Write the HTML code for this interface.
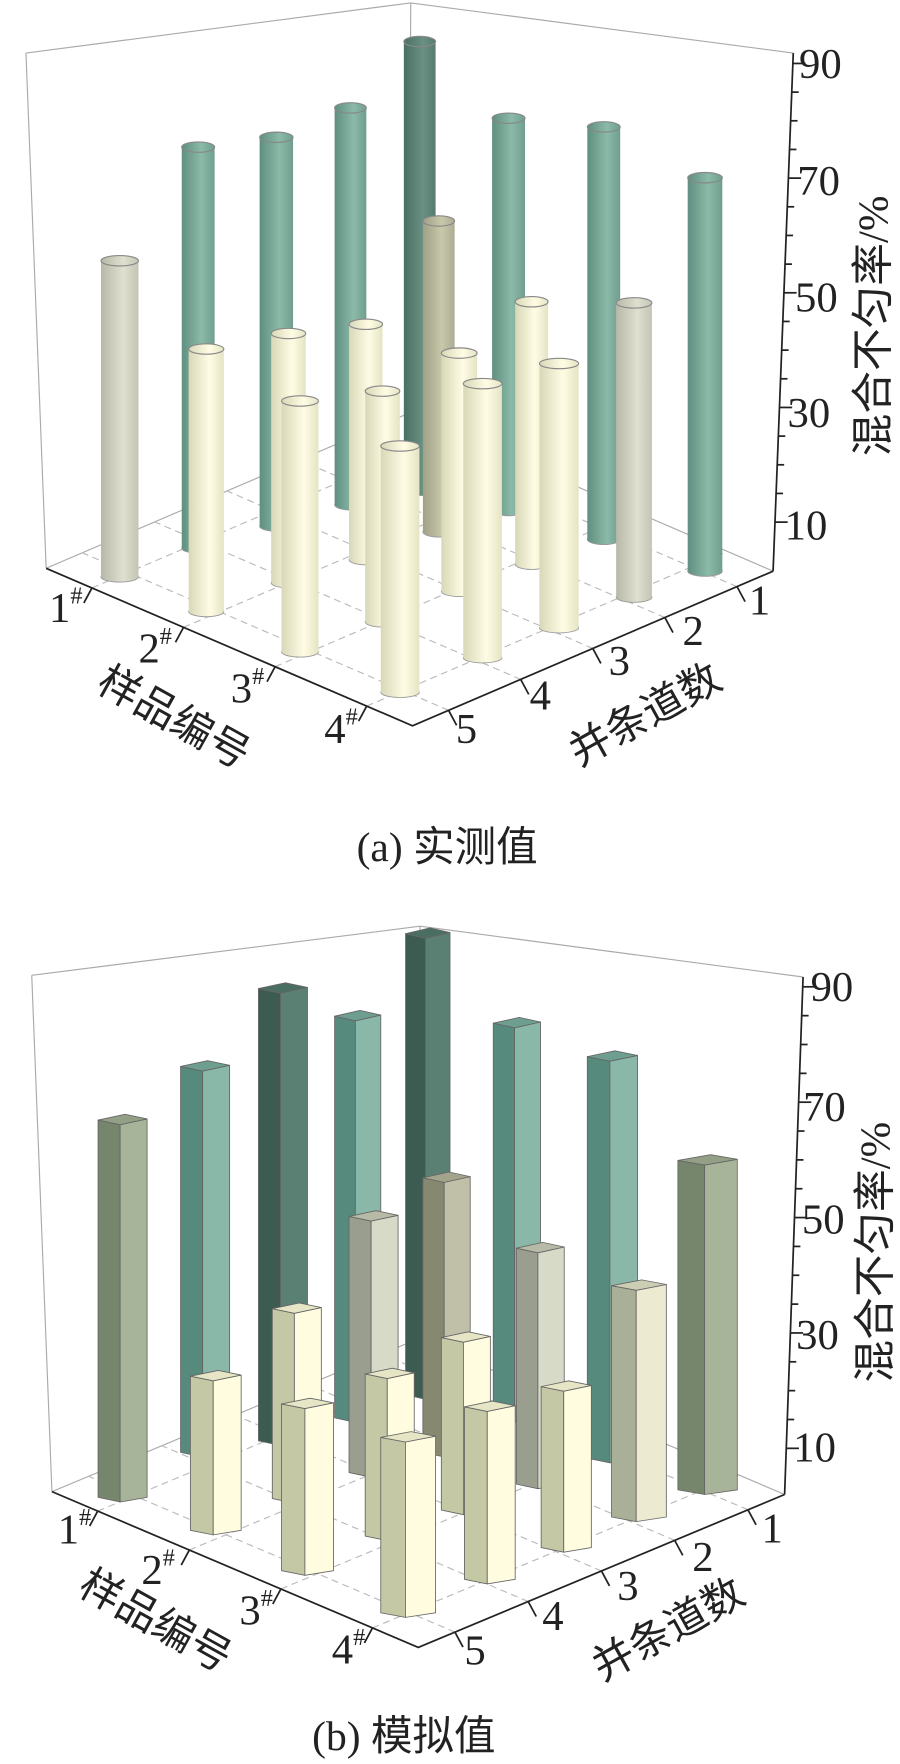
<!DOCTYPE html>
<html><head><meta charset="utf-8">
<style>
html,body{margin:0;padding:0;background:#fff;}
body{width:900px;height:1764px;position:relative;overflow:hidden;}
svg{position:absolute;left:0;}
text{font-family:"Liberation Serif","Noto Serif CJK SC","Noto Sans CJK SC",serif;fill:#222;}
.cj{font-family:"Noto Sans CJK SC","WenQuanYi Zen Hei",sans-serif;}
</style></head><body>
<svg id="a" style="top:0" width="900" height="900" viewBox="0 0 1560 1560">
<defs>
<linearGradient id="gt" x1="0" x2="1"><stop offset="0" stop-color="#5f8f80"/><stop offset=".6" stop-color="#8cbaa8"/><stop offset="1" stop-color="#6f9e90"/></linearGradient>
<linearGradient id="gd" x1="0" x2="1"><stop offset="0" stop-color="#4a7064"/><stop offset=".6" stop-color="#6a9084"/><stop offset="1" stop-color="#567a6e"/></linearGradient>
<linearGradient id="gy" x1="0" x2="1"><stop offset="0" stop-color="#d8d8b8"/><stop offset=".6" stop-color="#fffce4"/><stop offset="1" stop-color="#e4e4c4"/></linearGradient>
<linearGradient id="gg" x1="0" x2="1"><stop offset="0" stop-color="#b8b8a8"/><stop offset=".6" stop-color="#e0e0d0"/><stop offset="1" stop-color="#c4c4b4"/></linearGradient>
<linearGradient id="gk" x1="0" x2="1"><stop offset="0" stop-color="#a0a088"/><stop offset=".6" stop-color="#c8c8aa"/><stop offset="1" stop-color="#acac94"/></linearGradient>
</defs>
<g id="aAx"></g><g id="aBars"></g>
<text x="1385" y="135" font-size="74">90</text>
<text x="1382" y="338" font-size="74">70</text>
<text x="1378" y="540" font-size="74">50</text>
<text x="1365" y="740" font-size="74">30</text>
<text x="1360" y="935" font-size="74">10</text>
<text x="85" y="1078" font-size="74">1<tspan font-size="42" dy="-32">#</tspan></text>
<text x="240" y="1148" font-size="74">2<tspan font-size="42" dy="-32">#</tspan></text>
<text x="400" y="1218" font-size="74">3<tspan font-size="42" dy="-32">#</tspan></text>
<text x="562" y="1288" font-size="74">4<tspan font-size="42" dy="-32">#</tspan></text>
<text x="1298" y="1065" font-size="74">1</text>
<text x="1183" y="1118" font-size="74">2</text>
<text x="1055" y="1170" font-size="74">3</text>
<text x="918" y="1230" font-size="74">4</text>
<text x="790" y="1288" font-size="74">5</text>
<text class="cj" font-size="72" transform="translate(290,1265) rotate(29)" text-anchor="middle">样品编号</text>
<text class="cj" font-size="72" transform="translate(1130,1260) rotate(-29)" text-anchor="middle">并条道数</text>
<text font-size="74" transform="translate(1538,565) rotate(-90)" text-anchor="middle"><tspan class="cj">混合不匀率</tspan>/%</text>
<text x="775" y="1492" font-size="72" text-anchor="middle">(a) <tspan class="cj">实测值</tspan></text>
</svg>
<svg id="b" style="top:880px" width="900" height="884" viewBox="0 0 1560 1532">
<g id="bAx"></g><g id="bBars"></g>
<text x="1405" y="210" font-size="74">90</text>
<text x="1392" y="418" font-size="74">70</text>
<text x="1390" y="613" font-size="74">50</text>
<text x="1380" y="813" font-size="74">30</text>
<text x="1375" y="1008" font-size="74">10</text>
<text x="100" y="1150" font-size="74">1<tspan font-size="42" dy="-32">#</tspan></text>
<text x="245" y="1220" font-size="74">2<tspan font-size="42" dy="-32">#</tspan></text>
<text x="415" y="1290" font-size="74">3<tspan font-size="42" dy="-32">#</tspan></text>
<text x="575" y="1358" font-size="74">4<tspan font-size="42" dy="-32">#</tspan></text>
<text x="1320" y="1148" font-size="74">1</text>
<text x="1200" y="1198" font-size="74">2</text>
<text x="1070" y="1248" font-size="74">3</text>
<text x="940" y="1300" font-size="74">4</text>
<text x="805" y="1360" font-size="74">5</text>
<text class="cj" font-size="72" transform="translate(258,1305) rotate(29)" text-anchor="middle">样品编号</text>
<text class="cj" font-size="72" transform="translate(1170,1320) rotate(-29)" text-anchor="middle">并条道数</text>
<text font-size="74" transform="translate(1542,645) rotate(-90)" text-anchor="middle"><tspan class="cj">混合不匀率</tspan>/%</text>
<text x="700" y="1508" font-size="72" text-anchor="middle">(b) <tspan class="cj">模拟值</tspan></text>
</svg>
<script>
var NS="http://www.w3.org/2000/svg";
function el(p,t,a){var e=document.createElementNS(NS,t);for(var k in a)e.setAttribute(k,a[k]);p.appendChild(e);return e;}
function axes(g,bl,bk,br,fl,fr,ff,fbk,y90,y10){
 var L="#aaa";
 el(g,"line",{x1:bl[0],y1:bl[1],x2:bk[0],y2:bk[1],stroke:L,"stroke-width":2});
 el(g,"line",{x1:bk[0],y1:bk[1],x2:br[0],y2:br[1],stroke:L,"stroke-width":2});
 el(g,"line",{x1:bk[0],y1:bk[1],x2:fbk[0],y2:fbk[1],stroke:L,"stroke-width":2});
 el(g,"line",{x1:bl[0],y1:bl[1],x2:fl[0],y2:fl[1],stroke:L,"stroke-width":2});
 el(g,"line",{x1:fl[0],y1:fl[1],x2:fbk[0],y2:fbk[1],stroke:L,"stroke-width":2});
 el(g,"line",{x1:fbk[0],y1:fbk[1],x2:fr[0],y2:fr[1],stroke:L,"stroke-width":2});
 for(var i=1;i<8;i+=2){var u=i/8;
  var a=[ff[0]+u*(fl[0]-ff[0]),ff[1]+u*(fl[1]-ff[1])];var b=[fr[0]+u*(fbk[0]-fr[0]),fr[1]+u*(fbk[1]-fr[1])];
  el(g,"line",{x1:a[0],y1:a[1],x2:b[0],y2:b[1],stroke:"#bbb","stroke-width":2,"stroke-dasharray":"12,8"});}
 for(var j=1;j<10;j+=2){var v=j/10;
  var a=[ff[0]+v*(fr[0]-ff[0]),ff[1]+v*(fr[1]-ff[1])];var b=[fl[0]+v*(fbk[0]-fl[0]),fl[1]+v*(fbk[1]-fl[1])];
  el(g,"line",{x1:a[0],y1:a[1],x2:b[0],y2:b[1],stroke:"#bbb","stroke-width":2,"stroke-dasharray":"12,8"});}
 el(g,"polyline",{points:fl+" "+ff+" "+fr,fill:"none",stroke:"#222","stroke-width":3});
 el(g,"line",{x1:br[0],y1:br[1],x2:fr[0],y2:fr[1],stroke:"#222","stroke-width":3});
 for(var k=0;k<=16;k++){var y=y90+(y10-y90)*k/16;
  var t=(y-br[1])/(fr[1]-br[1]);var x=br[0]+t*(fr[0]-br[0]);
  el(g,"line",{x1:x,y1:y,x2:x+(k%4==0?22:12),y2:y,stroke:"#222","stroke-width":3});}
 for(var i=1;i<8;i+=2){var u=i/8;var x=ff[0]+u*(fl[0]-ff[0]),y=ff[1]+u*(fl[1]-ff[1]);
  el(g,"line",{x1:x,y1:y,x2:x-14,y2:y+26,stroke:"#222","stroke-width":3});}
 for(var j=1;j<10;j+=2){var v=j/10;var x=ff[0]+v*(fr[0]-ff[0]),y=ff[1]+v*(fr[1]-ff[1]);
  el(g,"line",{x1:x,y1:y,x2:x+14,y2:y+26,stroke:"#222","stroke-width":3});}
}
axes(document.getElementById("aAx"),[45,92],[712,5],[1375,92],[80,985],[1340,990],[715,1258],[707,717],110,905);
axes(document.getElementById("bAx"),[55,165],[728,80],[1392,168],[90,1060],[1360,1065],[725,1330],[725,795],185,985);
var A=[[175,240,452,1000,"gg"],[315,372,255,950,"gt"],[450,508,238,912,"gt"],[580,635,187,875,"gt"],[700,755,72,850,"gd"],[853,910,205,885,"gt"],[1018,1075,220,935,"gt"],[1192,1252,308,990,"gt"],
[327,388,605,1060,"gy"],[470,530,578,1010,"gy"],[605,663,562,970,"gy"],[733,788,383,922,"gk"],[893,950,523,978,"gy"],[1068,1130,525,1035,"gg"],
[488,552,695,1130,"gy"],[633,693,678,1078,"gy"],[765,827,612,1025,"gy"],[935,1003,630,1088,"gy"],[660,727,773,1200,"gy"],[803,870,665,1140,"gy"]];
A.sort(function(a,b){return a[3]-b[3]});
var ga=document.getElementById("aBars");
A.forEach(function(c){var cx=(c[0]+c[1])/2,rx=(c[1]-c[0])/2;
 el(ga,"ellipse",{cx:cx,cy:c[3],rx:rx,ry:9,fill:"url(#"+c[4]+")",stroke:"#999","stroke-width":1.5});
 el(ga,"rect",{x:c[0],y:c[2],width:c[1]-c[0],height:c[3]-c[2],fill:"url(#"+c[4]+")"});
 el(ga,"ellipse",{cx:cx,cy:c[2],rx:rx,ry:9,fill:"url(#"+c[4]+")",stroke:"#888","stroke-width":2});
});
var C={ol:["#76866c","#a8b49a","#94a086"],t:["#568a7c","#8ab8a8","#6e9e90"],d:["#3c5c52","#5a8074","#4a6e62"],
 y:["#c4c8a4","#fffce0","#e6e6c6"],g:["#9a9e8e","#d8dac8","#b8baa8"],k:["#868870","#c0c0a8","#a4a48c"],lo:["#aab098","#ecead0","#ccceb4"]};
var B=[[170,255,408,1078,"ol"],[313,398,315,1000,"t"],[448,533,180,980,"d"],[580,660,228,940,"t"],[703,780,85,900,"d"],[855,937,240,940,"t"],[1018,1105,298,1010,"t"],[1175,1278,478,1065,"ol"],
[330,418,852,1135,"y"],[472,557,735,1080,"y"],[605,690,575,1035,"g"],[733,815,508,1000,"k"],[895,978,630,1055,"g"],[1060,1155,695,1112,"lo"],
[488,578,900,1205,"y"],[633,718,848,1145,"y"],[765,850,785,1100,"y"],[938,1025,870,1165,"y"],[660,755,958,1278,"y"],[805,893,905,1220,"y"]];
B.sort(function(a,b){return a[3]-b[3]});
var gb=document.getElementById("bBars");
B.forEach(function(b){var x0=b[0],x1=b[1],t=b[2],bo=b[3],w=x1-x0,xm=x0+0.45*w,c=C[b[4]];
 var s={stroke:"#666","stroke-width":1.5,"stroke-linejoin":"round"};
 el(gb,"polygon",Object.assign({points:[x0,t+8,xm,t+16,xm,bo,x0,bo-8].join(" "),fill:c[0]},s));
 el(gb,"polygon",Object.assign({points:[xm,t+16,x1,t+6,x1,bo-8,xm,bo].join(" "),fill:c[1]},s));
 el(gb,"polygon",Object.assign({points:[x0,t+8,xm,t+16,x1,t+6,x0+(x1-xm),t-2].join(" "),fill:c[2]},s));
});
</script>
</body></html>
